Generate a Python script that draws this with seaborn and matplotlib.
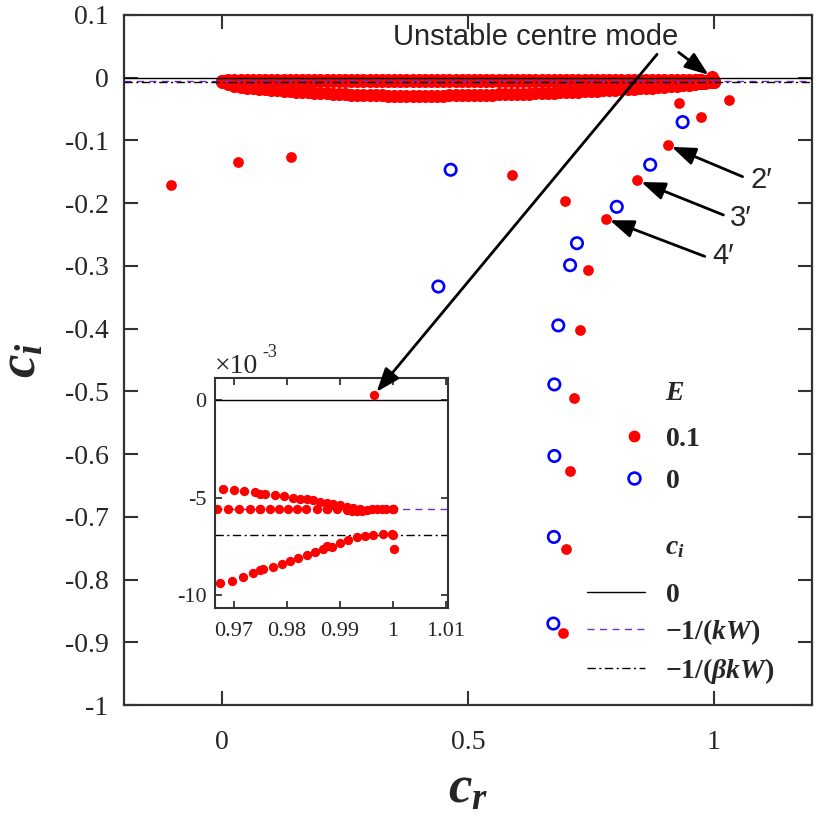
import matplotlib
matplotlib.use('Agg')
import numpy as np
import pandas as pd
import matplotlib.pyplot as plt
import seaborn as sns
from matplotlib.lines import Line2D
from matplotlib.ticker import FixedLocator, FixedFormatter

# discrete modes, E = 0.1 (filled red)
cr_e01 = [-0.105, 0.033, 0.141, 0.590, 0.697, 0.744, 0.728, 0.716, 0.708, 0.699, 0.694,
          0.781, 0.845, 0.907, 0.929, 0.974, 1.032]
ci_e01 = [-0.172, -0.135, -0.127, -0.156, -0.196, -0.307, -0.403, -0.511, -0.627, -0.751, -0.885,
          -0.225, -0.164, -0.108, -0.040, -0.063, -0.036]

# discrete modes, E = 0 (open blue)
cr_e0 = [0.465, 0.440, 0.937, 0.871, 0.803, 0.722, 0.708, 0.684, 0.676, 0.676, 0.675, 0.674]
ci_e0 = [-0.147, -0.333, -0.071, -0.139, -0.206, -0.264, -0.299, -0.395, -0.489, -0.603, -0.732, -0.870]

# dense band of E = 0.1 modes just below ci = 0 (ci in units of 1e-3)
cr_band = [0.0000, 0.0125, 0.0250, 0.0375, 0.0500, 0.0625, 0.0750, 0.0875, 0.1000, 0.1125,
           0.1250, 0.1375, 0.1500, 0.1625, 0.1750, 0.1875, 0.2000, 0.2125, 0.2250, 0.2375,
           0.2500, 0.2625, 0.2750, 0.2875, 0.3000, 0.3125, 0.3250, 0.3375, 0.3500, 0.3625,
           0.3750, 0.3875, 0.4000, 0.4125, 0.4250, 0.4375, 0.4500, 0.4625, 0.4750, 0.4875,
           0.5000, 0.5125, 0.5250, 0.5375, 0.5500, 0.5625, 0.5750, 0.5875, 0.6000, 0.6125,
           0.6250, 0.6375, 0.6500, 0.6625, 0.6750, 0.6875, 0.7000, 0.7125, 0.7250, 0.7375,
           0.7500, 0.7625, 0.7750, 0.7875, 0.8000, 0.8125, 0.8250, 0.8375, 0.8500, 0.8625,
           0.8750, 0.8875, 0.9000, 0.9125, 0.9250, 0.9375, 0.9500, 0.9625, 0.9750, 0.9875,
           1.0000]
ci_band_top = [-5.0, -4.6, -4.4, -4.3, -4.2, -4.2, -4.1, -4.1, -4.1, -4.0,
               -4.0, -4.0, -4.0, -4.0, -4.0, -4.0, -4.0, -4.0, -4.0, -4.0,
               -4.0, -4.0, -4.0, -4.0, -4.0, -4.0, -4.0, -4.0, -4.0, -4.0,
               -4.0, -4.0, -4.0, -4.0, -4.0, -4.0, -4.0, -4.0, -4.0, -4.0,
               -4.0, -4.0, -4.0, -4.0, -4.0, -4.0, -4.0, -4.0, -4.0, -4.0,
               -4.0, -4.0, -4.0, -4.0, -4.0, -4.0, -4.0, -4.0, -4.0, -4.0,
               -4.0, -4.0, -4.0, -4.0, -4.0, -4.0, -4.0, -4.0, -4.0, -4.0,
               -4.0, -4.1, -4.1, -4.2, -4.2, -4.3, -4.3, -4.5, -4.8, -5.3,
               -5.6]
ci_band_mid = [-5.6, -5.6, -5.6, -5.6, -5.6, -5.6, -5.6, -5.6, -5.6, -5.6,
               -5.6, -5.6, -5.6, -5.6, -5.6, -5.6, -5.6, -5.6, -5.6, -5.6,
               -5.6, -5.6, -5.6, -5.6, -5.6, -5.6, -5.6, -5.6, -5.6, -5.6,
               -5.6, -5.6, -5.6, -5.6, -5.6, -5.6, -5.6, -5.6, -5.6, -5.6,
               -5.6, -5.6, -5.6, -5.6, -5.6, -5.6, -5.6, -5.6, -5.6, -5.6,
               -5.6, -5.6, -5.6, -5.6, -5.6, -5.6, -5.6, -5.6, -5.6, -5.6,
               -5.6, -5.6, -5.6, -5.6, -5.6, -5.6, -5.6, -5.6, -5.6, -5.6,
               -5.6, -5.6, -5.6, -5.6, -5.6, -5.6, -5.6, -5.6, -5.6, -5.6,
               -5.6]
ci_band_low = [-7.0, -11.0, -13.5, -15.0, -16.2, -17.2, -18.0, -18.8, -19.5, -20.2,
               -20.9, -21.6, -22.3, -23.0, -23.6, -24.2, -24.8, -25.3, -25.8, -26.3,
               -26.7, -27.1, -27.5, -27.8, -28.1, -28.3, -28.5, -28.7, -28.8, -28.9,
               -29.0, -29.0, -29.0, -29.0, -28.9, -28.8, -28.7, -28.6, -28.5, -28.3,
               -28.1, -27.9, -27.7, -27.5, -27.3, -27.0, -26.7, -26.4, -26.1, -25.8,
               -25.5, -25.1, -24.8, -24.4, -24.0, -23.6, -23.2, -22.8, -22.3, -21.8,
               -21.4, -20.9, -20.4, -19.9, -19.4, -18.9, -18.4, -17.9, -17.3, -16.7,
               -16.1, -15.5, -14.8, -14.1, -13.3, -12.5, -11.6, -10.4, -8.7, -7.5,
               -6.9]

# detail near cr = 1 shown in the inset (ci in units of 1e-3)
cr_zoom_upper = [0.96786, 0.97000, 0.97195, 0.97400, 0.97592, 0.97775, 0.97945, 0.98110, 0.98250,
                 0.98374, 0.98500, 0.98626, 0.98750, 0.98877, 0.99000, 0.99130, 0.99250, 0.99382]
ci_zoom_upper = [-4.56, -4.60, -4.65, -4.72, -4.79, -4.86, -4.92, -4.99, -5.04,
                 -5.08, -5.14, -5.20, -5.26, -5.32, -5.39, -5.45, -5.51, -5.56]
cr_zoom_mid = [0.96673, 0.96892, 0.97100, 0.97300, 0.97490, 0.97680, 0.97856, 0.98030, 0.98200,
               0.98370, 0.98560, 0.98750, 0.98940, 0.99130, 0.99230, 0.99320, 0.99420, 0.99510,
               0.99610, 0.99700, 0.99790, 0.99880, 1.00010]
ci_zoom_mid = [-5.58, -5.58, -5.58, -5.58, -5.58, -5.58, -5.58, -5.58, -5.58,
               -5.58, -5.58, -5.58, -5.60, -5.62, -5.66, -5.70, -5.68, -5.64,
               -5.60, -5.58, -5.58, -5.58, -5.56]
cr_zoom_low = [0.96735, 0.96956, 0.97164, 0.97365, 0.97554, 0.97743, 0.97901, 0.98059, 0.98216,
               0.98374, 0.98531, 0.98689, 0.98847, 0.99004, 0.99161, 0.99319, 0.99476, 0.99633,
               0.99822, 0.99981]
ci_zoom_low = [-9.38, -9.25, -9.04, -8.87, -8.67, -8.53, -8.39, -8.24, -8.09,
               -7.93, -7.78, -7.64, -7.51, -7.33, -7.16, -7.03, -6.96, -6.91,
               -6.87, -6.86]
cr_zoom_extra = [1.0002, 0.99645]
ci_zoom_extra = [-7.63, 0.27]

# unstable centre mode and the labelled modes 2', 3', 4'
cr_unstable, ci_unstable = 0.99645, 0.00027
mode_cr = [0.907, 0.845, 0.781]
mode_ci = [-0.108, -0.164, -0.225]
mode_txt = ['2\u2032', '3\u2032', '4\u2032']
mode_txt_cr = [1.076, 1.033, 0.998]
mode_txt_ci = [-0.163, -0.224, -0.285]
mode_tail_cr = [1.059, 1.020, 0.982]
mode_tail_ci = [-0.158, -0.219, -0.285]

# reference levels of ci
line_ci = [0.0, -0.0056, -0.0069]
line_labels = [r'$0$', r'$-1/(kW)$', r'$-1/(\beta kW)$']
line_styles = ['-', (0, (5, 4)), (0, (6, 2.5, 1.5, 2.5))]
line_colors = ['black', '#7030c0', 'black']

xticks = [0, 0.5, 1]
xticklabels = ['0', '0.5', '1']
yticks = [0.1, 0, -0.1, -0.2, -0.3, -0.4, -0.5, -0.6, -0.7, -0.8, -0.9, -1]
yticklabels = ['0.1', '0', '-0.1', '-0.2', '-0.3', '-0.4', '-0.5', '-0.6', '-0.7', '-0.8', '-0.9', '-1']
inset_xticks = [0.97, 0.98, 0.99, 1.0, 1.01]
inset_xticklabels = ['0.97', '0.98', '0.99', '1', '1.01']
inset_yticks = [0, -0.005, -0.01]
inset_yticklabels = ['0', '-5', '-10']

band = pd.DataFrame({
    'cr': cr_band * 3 + cr_zoom_upper + cr_zoom_mid + cr_zoom_low + cr_zoom_extra,
    'ci': np.array(ci_band_top + ci_band_mid + ci_band_low + ci_zoom_upper
                   + ci_zoom_mid + ci_zoom_low + ci_zoom_extra) * 1e-3,
})
modes01 = pd.DataFrame({'cr': cr_e01, 'ci': ci_e01})
modes0 = pd.DataFrame({'cr': cr_e0, 'ci': ci_e0})

sns.set_style('ticks')
plt.rcParams['font.family'] = ['Liberation Serif', 'DejaVu Serif']
plt.rcParams['axes.unicode_minus'] = False
plt.rcParams['mathtext.fontset'] = 'custom'
plt.rcParams['mathtext.rm'] = 'Liberation Serif:bold'
plt.rcParams['mathtext.bf'] = 'Liberation Serif:bold'
plt.rcParams['mathtext.it'] = 'Liberation Serif:italic:bold'

fig = plt.figure(figsize=(8.31, 8.19), dpi=100)
ax = fig.add_axes([0.149, 0.139, 0.828, 0.843])

sns.scatterplot(data=band, x='cr', y='ci', color='red', s=88, linewidth=0, ax=ax, zorder=2)
sns.scatterplot(data=modes01, x='cr', y='ci', color='red', s=60, linewidth=0, ax=ax, zorder=2)
sns.scatterplot(data=modes0, x='cr', y='ci', color='none', edgecolor='blue', s=68,
                linewidth=1.9, ax=ax, zorder=2)
for yv, ls, col in zip(line_ci, line_styles, line_colors):
    ax.axhline(yv, ls=ls, color=col, lw=1.0, zorder=3)

ax.set_xlim(-0.2, 1.2)
ax.set_ylim(-1, 0.1)
ax.xaxis.set_major_locator(FixedLocator(xticks))
ax.xaxis.set_major_formatter(FixedFormatter(xticklabels))
ax.yaxis.set_major_locator(FixedLocator(yticks))
ax.yaxis.set_major_formatter(FixedFormatter(yticklabels))
ax.tick_params(direction='in', top=True, right=True, length=10, width=1.5,
               labelsize=20, color='#333333')
ax.tick_params(axis='x', pad=18)
ax.tick_params(axis='y', pad=11)
for sp in ax.spines.values():
    sp.set_color('#333333')
    sp.set_linewidth(1.6)
ax.set_xlabel(r'$c_r$', fontsize=38, labelpad=8)
ax.set_ylabel(r'$c_i$', fontsize=38, labelpad=13)

arrow = dict(arrowstyle='-|>,head_length=0.8,head_width=0.3', mutation_scale=18,
             lw=2, color='black', shrinkA=0, shrinkB=3)
sans = ['Liberation Sans', 'DejaVu Sans']
ax.text(0.637, 0.064, 'Unstable centre mode', ha='center', va='center', fontsize=21, family=sans)
ax.annotate('', xy=(cr_unstable, ci_unstable), xytext=(0.929, 0.040), arrowprops=arrow)
for cx, cy, tx, ty, ax_, ay_, t in zip(mode_cr, mode_ci, mode_txt_cr, mode_txt_ci,
                                        mode_tail_cr, mode_tail_ci, mode_txt):
    ax.text(tx, ty, t, ha='left', va='center', fontsize=21, family=sans)
    ax.annotate('', xy=(cx, cy), xytext=(ax_, ay_), arrowprops=arrow)

# legend headers and entries
ax.text(0.786, 0.452, r'$E$', transform=ax.transAxes, ha='left', va='center', fontsize=20)
ax.text(0.786, 0.2275, r'$c_i$', transform=ax.transAxes, ha='left', va='center', fontsize=20)
h_red = Line2D([], [], linestyle='none', marker='o', markersize=7.5,
               markerfacecolor='red', markeredgecolor='red')
h_blue = Line2D([], [], linestyle='none', marker='o', markersize=8.5,
                markerfacecolor='none', markeredgecolor='blue', markeredgewidth=1.9)
leg1 = ax.legend([h_red, h_blue], [r'$0.1$', r'$0$'], loc='upper left',
                 bbox_to_anchor=(0.725, 0.404), frameon=False, fontsize=20, handlelength=0.8,
                 handletextpad=0.72, borderpad=0, borderaxespad=0, labelspacing=0.6)
ax.add_artist(leg1)
line_handles = [Line2D([], [], ls=ls, color=col, lw=1.0) for ls, col in zip(line_styles, line_colors)]
ax.legend(line_handles, line_labels, loc='upper left',
          bbox_to_anchor=(0.673, 0.178), frameon=False, fontsize=20, handlelength=2.09,
          handletextpad=0.72, borderpad=0, borderaxespad=0, labelspacing=0.33)

# inset
axi = fig.add_axes([0.2587, 0.2573, 0.2804, 0.2808])
for yv, ls, col in zip(line_ci, line_styles, line_colors):
    axi.axhline(yv, ls=ls, color=col, lw=1.0, zorder=1)
sns.scatterplot(data=band, x='cr', y='ci', color='red', s=45, linewidth=0, ax=axi, zorder=2)
axi.set_xlim(0.96641, 1.01044)
axi.set_ylim(-0.01067, 0.00113)
axi.xaxis.set_major_locator(FixedLocator(inset_xticks))
axi.xaxis.set_major_formatter(FixedFormatter(inset_xticklabels))
axi.yaxis.set_major_locator(FixedLocator(inset_yticks))
axi.yaxis.set_major_formatter(FixedFormatter(inset_yticklabels))
axi.tick_params(direction='in', top=True, right=True, length=5, width=1.3,
                labelsize=16, color='#333333')
axi.tick_params(axis='x', pad=10)
axi.tick_params(axis='y', pad=6)
for sp in axi.spines.values():
    sp.set_color('#333333')
    sp.set_linewidth(1.5)
axi.set_xlabel('')
axi.set_ylabel('')
axi.text(0.0, 0.995, '\u00d710', transform=axi.transAxes, ha='left', va='bottom', fontsize=20)
axi.text(0.205, 1.075, '-3', transform=axi.transAxes, ha='left', va='bottom', fontsize=13)
axi.annotate('', xy=(cr_unstable, ci_unstable), xytext=(0.885, 0.037), textcoords=ax.transData,
             arrowprops=arrow)

fig.savefig('out.png', dpi=100)
